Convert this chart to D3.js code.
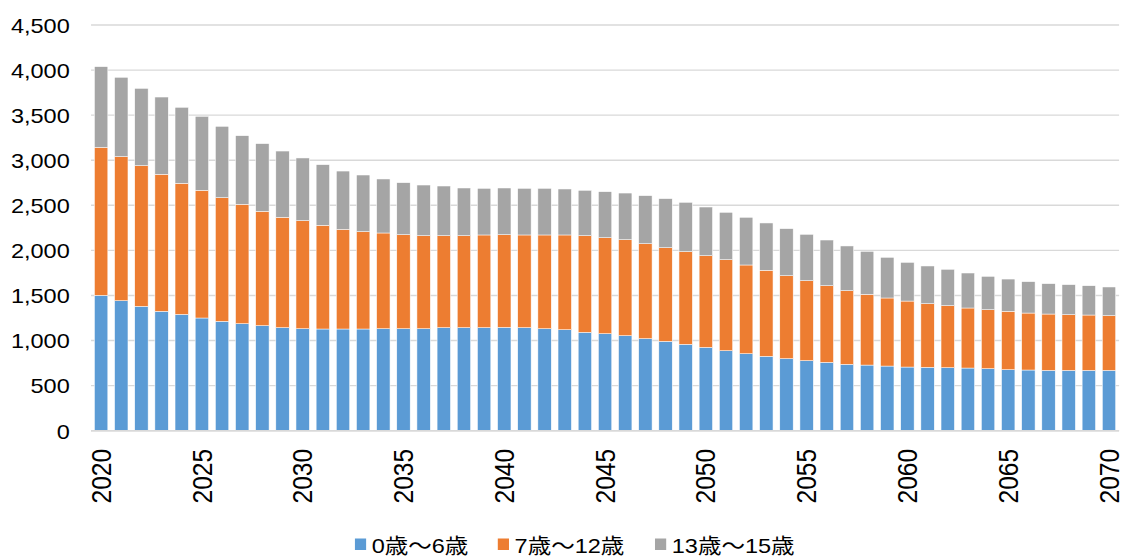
<!DOCTYPE html>
<html>
<head>
<meta charset="utf-8">
<script src="https://cdn.jsdelivr.net/npm/d3@7"></script>
<style>
  html, body { margin: 0; padding: 0; background: #fff; }
  svg { display: block; }
  text { font-family: "Liberation Sans", Arial, "Noto Sans CJK JP", sans-serif; fill: #000; }
</style>
</head>
<body>
<svg id="chart"></svg>
<script>
const years = d3.range(2020, 2071);
const seriesNames = ["0歳～6歳", "7歳～12歳", "13歳～15歳"];
const seriesColors = ["#5B9BD5", "#ED7D31", "#A5A5A5"];
const age0_6 = [1501,1442,1379,1324,1290,1250,1213,1187,1165,1143,
                1131,1128,1128,1128,1131,1131,1131,1143,1143,1143,
                1146,1143,1131,1120,1091,1076,1054,1021,991,958,
                924,887,854,825,799,777,758,736,728,717,
                706,703,699,695,688,677,673,669,669,669,669];
const age7_12 = [1642,1598,1561,1520,1454,1416,1372,1324,1268,1224,
                 1199,1150,1105,1080,1062,1043,1032,1020,1020,1028,
                 1028,1028,1040,1051,1072,1065,1065,1053,1039,1028,
                 1017,1010,984,954,920,887,850,817,784,755,
                 732,706,688,666,654,647,632,625,618,614,607];
const age13_15 = [895,880,857,857,843,821,791,761,751,735,
                  695,673,647,628,599,577,562,551,529,517,
                  518,517,517,510,503,510,517,533,544,547,
                  540,525,529,525,522,514,507,496,477,451,
                  429,418,403,388,370,358,348,337,333,325,318];
const yTicks = [0,500,1000,1500,2000,2500,3000,3500,4000,4500];
const xTickYears = [2020,2025,2030,2035,2040,2045,2050,2055,2060,2065,2070];

const W = 1003, H = 556;
const svg = d3.select("#chart")
  .attr("width", 1123).attr("height", 556)
  .attr("viewBox", `0 0 ${W} ${H}`)
  .attr("preserveAspectRatio", "none");

const plot = {left: 81.3, right: 999.5, top: 25, bottom: 430.7};

const rows = years.map((y, i) => ({year: y, a: age0_6[i], b: age7_12[i], c: age13_15[i]}));
const stack = d3.stack().keys(["a", "b", "c"]);
const stacked = stack(rows);

const x = d3.scaleBand().domain(years).range([plot.left, plot.right])
  .paddingInner(0.333).paddingOuter(0.1667);
const y = d3.scaleLinear().domain([0, 4500]).range([plot.bottom, plot.top]);

// gridlines
svg.append("g").selectAll("line").data(yTicks).join("line")
  .attr("x1", plot.left).attr("x2", plot.right)
  .attr("y1", d => y(d)).attr("y2", d => y(d))
  .attr("stroke", "#D9D9D9").attr("stroke-width", 1.4);

// y axis
const yAxis = d3.axisLeft(y).tickValues(yTicks).tickSize(0).tickPadding(19)
  .tickFormat(d3.format(","));
const yg = svg.append("g").attr("transform", `translate(${plot.left},0)`).call(yAxis);
yg.select(".domain").remove();
yg.selectAll("text").style("font-size", "21px").attr("dy", "0.35em")
  .style("font-family", '"Liberation Sans", Arial, sans-serif');

// bars
svg.append("g").selectAll("g").data(stacked).join("g")
  .attr("fill", (d, i) => seriesColors[i])
  .selectAll("rect").data(d => d).join("rect")
  .attr("x", d => x(d.data.year))
  .attr("width", x.bandwidth())
  .attr("y", d => y(d[1]))
  .attr("height", d => y(d[0]) - y(d[1]))
  .attr("stroke", "#ffffff").attr("stroke-width", 0.5);

// x axis
const xAxis = d3.axisBottom(x).tickValues(xTickYears).tickSize(0).tickPadding(0);
const xg = svg.append("g").attr("transform", `translate(0,${plot.bottom})`).call(xAxis);
xg.select(".domain").remove();
svg.append("line").attr("x1", plot.left).attr("x2", plot.right)
  .attr("y1", plot.bottom).attr("y2", plot.bottom)
  .attr("stroke", "#D9D9D9").attr("stroke-width", 1.4);
xg.selectAll("text")
  .style("font-size", "24.5px")
  .style("font-family", '"Liberation Sans", Arial, sans-serif')
  .attr("text-anchor", "end")
  .attr("transform", "rotate(-90)")
  .attr("x", -18.3)
  .attr("y", 0)
  .attr("dy", "0.35em");

// legend
const legendX = [317, 444.6, 585];
const lg = svg.append("g");
seriesNames.forEach((name, i) => {
  lg.append("rect").attr("x", legendX[i]).attr("y", 538.5)
    .attr("width", 10).attr("height", 11.5).attr("fill", seriesColors[i]);
  lg.append("text").attr("x", legendX[i] + 15).attr("y", 545).attr("dy", "0.36em")
    .style("font-size", "21px").text(name);
});
</script>
</body>
</html>
